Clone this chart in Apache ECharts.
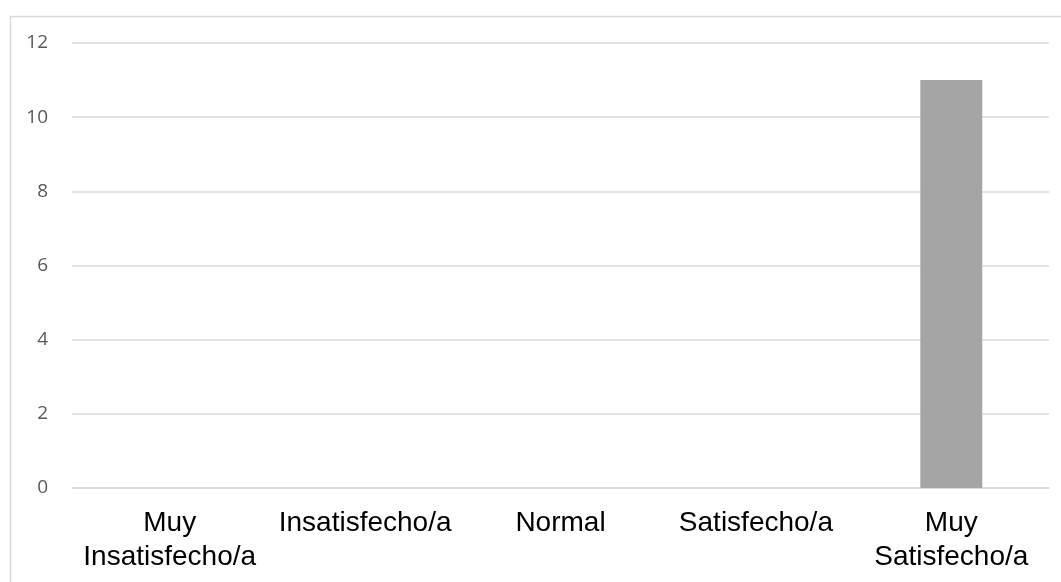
<!DOCTYPE html>
<html>
<head>
<meta charset="utf-8">
<script src="https://cdn.jsdelivr.net/npm/echarts@6/dist/echarts.min.js"></script>
<style>
  html, body { margin: 0; padding: 0; background: #fff; }
  #chart { width: 1061px; height: 582px; }
</style>
</head>
<body>
<div id="chart"></div>
<script>
// datos del grafico
var categorias = ['Muy\nInsatisfecho/a', 'Insatisfecho/a', 'Normal', 'Satisfecho/a', 'Muy\nSatisfecho/a'];
var valores = [0, 0, 0, 0, 11];
var ejeY = { min: 0, max: 12, intervalo: 2 };

var myChart = echarts.init(document.getElementById('chart'));

var option = {
  animation: false,
  // marco gris del area del grafico (solo se ve arriba e izquierda)
  graphic: [{
    type: 'rect',
    left: 8, top: 14,
    shape: { width: 1200, height: 800 },
    style: { fill: 'none', stroke: '#d9d9d9', lineWidth: 1.5 },
    silent: true
  }],
  grid: {
    left: 72,
    right: 12,
    top: 43,
    bottom: 94
  },
  xAxis: {
    type: 'category',
    data: categorias,
    axisLine: { show: true, lineStyle: { color: '#d9d9d9', width: 1.5 } },
    axisTick: { show: false },
    axisLabel: {
      interval: 0,
      margin: 18,
      color: '#000',
      fontFamily: 'Liberation Sans, Arial, sans-serif',
      fontSize: 28,
      lineHeight: 34
    }
  },
  yAxis: {
    type: 'value',
    min: ejeY.min,
    max: ejeY.max,
    interval: ejeY.intervalo,
    axisLine: { show: false },
    axisTick: { show: false },
    axisLabel: {
      margin: 24,
      color: '#595959',
      fontFamily: 'Open Sans, sans-serif',
      fontSize: 19
    },
    splitLine: { lineStyle: { color: '#d9d9d9', width: 1.5 } }
  },
  series: [{
    type: 'bar',
    data: valores,
    barWidth: '31.7%',
    itemStyle: { color: '#a5a5a5' }
  }]
};

myChart.setOption(option);
</script>
</body>
</html>
